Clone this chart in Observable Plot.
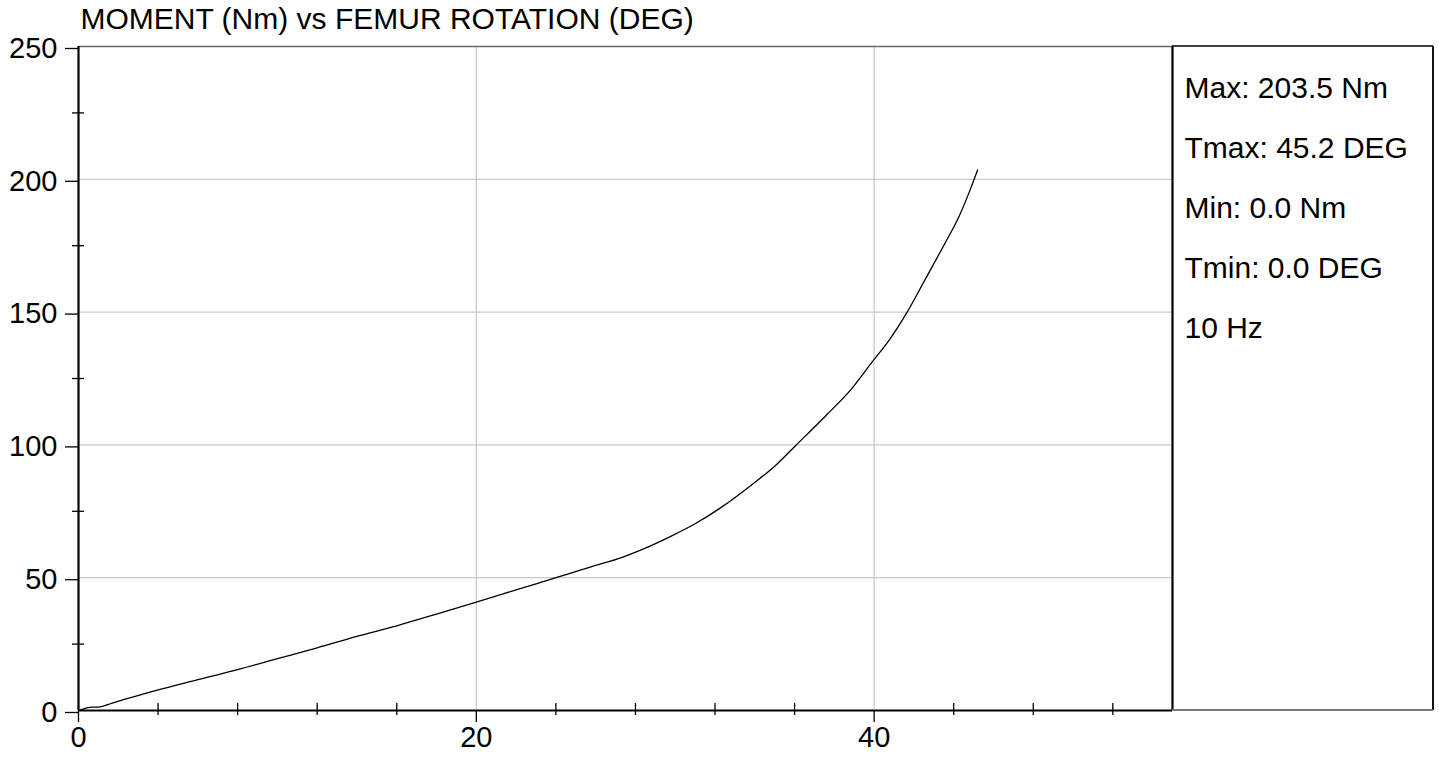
<!DOCTYPE html>
<html>
<head>
<meta charset="utf-8">
<script src="https://cdn.jsdelivr.net/npm/d3@7"></script>
<script src="https://cdn.jsdelivr.net/npm/@observablehq/plot@0.6"></script>
<style>
  html, body { margin: 0; padding: 0; background: #fff; }
  #chart svg { display: block; }
</style>
</head>
<body>
<div id="chart"></div>
<script>
// ---- data ----
const rotation = [0, 0.7, 1.0, 1.7, 4, 6, 8, 10, 12, 14, 16, 18, 20, 22, 24, 26, 27.3, 28.2, 29.7, 31, 32.2, 33.9, 35, 36.06, 37.57, 38.82, 39.96, 40.74, 41.66, 42.58, 43.59, 44.25, 44.84, 45.2];
const moment   = [0, 1.3, 1.3, 2.8, 7.8, 11.6, 15.4, 19.5, 23.6, 27.9, 31.9, 36.3, 40.8, 45.4, 50.0, 54.6, 57.6, 60.2, 65.3, 70.3, 75.9, 85.3, 92, 99.8, 111, 120.7, 131.8, 139.3, 150, 162.5, 176.3, 185.7, 196.3, 203.5];
const xLabelTicks = [0, 20, 40];
const xMinorTicks = [4, 8, 12, 16, 24, 28, 32, 36, 44, 48, 52];
const yLabelTicks = [0, 50, 100, 150, 200, 250];
const yMinorTicks = [25, 75, 125, 175, 225];
const xGrid = [20, 40];
const yGrid = [50, 100, 150, 200];
const title = "MOMENT (Nm) vs FEMUR ROTATION (DEG)";
const statsLines = ["Max: 203.5 Nm", "Tmax: 45.2 DEG", "Min: 0.0 Nm", "Tmin: 0.0 DEG", "10 Hz"];

const data = rotation.map((r, i) => ({rotation: r, moment: moment[i]}));
const FONT = "'Liberation Sans', Arial, Helvetica, sans-serif";

const plot = Plot.plot({
  width: 1439,
  height: 759,
  marginLeft: 78,
  marginRight: 267,
  marginTop: 46,
  marginBottom: 49,
  style: {fontFamily: FONT, fontSize: "29px", background: "#fff", color: "#000", overflow: "visible"},
  x: {domain: [0, 55]},
  y: {domain: [0, 250]},
  marks: [
    Plot.gridX(xGrid, {stroke: "#c8c8c8", strokeOpacity: 1, strokeWidth: 1.2}),
    Plot.gridY(yGrid, {stroke: "#c8c8c8", strokeOpacity: 1, strokeWidth: 1.2}),
    Plot.ruleY([250], {stroke: "#666", strokeWidth: 1.5}),
    Plot.line(data, {x: "rotation", y: "moment", stroke: "#000", strokeWidth: 1.3, curve: "monotone-x"}),
    Plot.ruleX([0], {stroke: "#000", strokeWidth: 2.2}),
    Plot.ruleY([0], {stroke: "#000", strokeWidth: 2.2}),
    Plot.ruleX([55], {stroke: "#000", strokeWidth: 2.2}),
    Plot.ruleY(yMinorTicks, {x1: 0, x2: 0, insetLeft: -6, insetRight: -6, stroke: "#000", strokeWidth: 1.3}),
    Plot.ruleX(xMinorTicks, {y1: 0, y2: 0, insetTop: -7, insetBottom: -5, stroke: "#000", strokeWidth: 1.3}),
    Plot.axisY(yLabelTicks, {tickSize: 13, tickPadding: 8, fontSize: 29, label: null, stroke: "#000", strokeWidth: 1.3, dy: 2}),
    Plot.axisX(xLabelTicks, {tickSize: 12, tickPadding: 4, fontSize: 29, label: null, stroke: "#000", strokeWidth: 1.3}),
    Plot.text([title], {frameAnchor: "top-left", textAnchor: "start", lineAnchor: "bottom", dx: 2, dy: -18, fontSize: 30, fill: "#000"}),
    Plot.text([statsLines.join("\n")], {frameAnchor: "top-right", textAnchor: "start", lineAnchor: "top", dx: 12, dy: 9, lineHeight: 2, fontSize: 30, fill: "#000"})
  ]
});

// right-hand stats panel box, anchored to the plot frame
const svgSel = d3.select(plot);
const xr = plot.scale("x").range;
const yr = plot.scale("y").range;
const boxLeft = xr[1], boxRight = xr[1] + 261, boxTop = yr[1], boxBottom = yr[0];
const g = svgSel.append("g");
g.append("line").attr("x1", boxLeft).attr("x2", boxRight).attr("y1", boxTop).attr("y2", boxTop).attr("stroke", "#000").attr("stroke-width", 1.5);
g.append("line").attr("x1", boxRight).attr("x2", boxRight).attr("y1", boxTop).attr("y2", boxBottom).attr("stroke", "#111").attr("stroke-width", 2);
g.append("line").attr("x1", boxLeft).attr("x2", boxRight).attr("y1", boxBottom).attr("y2", boxBottom).attr("stroke", "#777").attr("stroke-width", 2);

document.getElementById("chart").appendChild(plot);
</script>
</body>
</html>
